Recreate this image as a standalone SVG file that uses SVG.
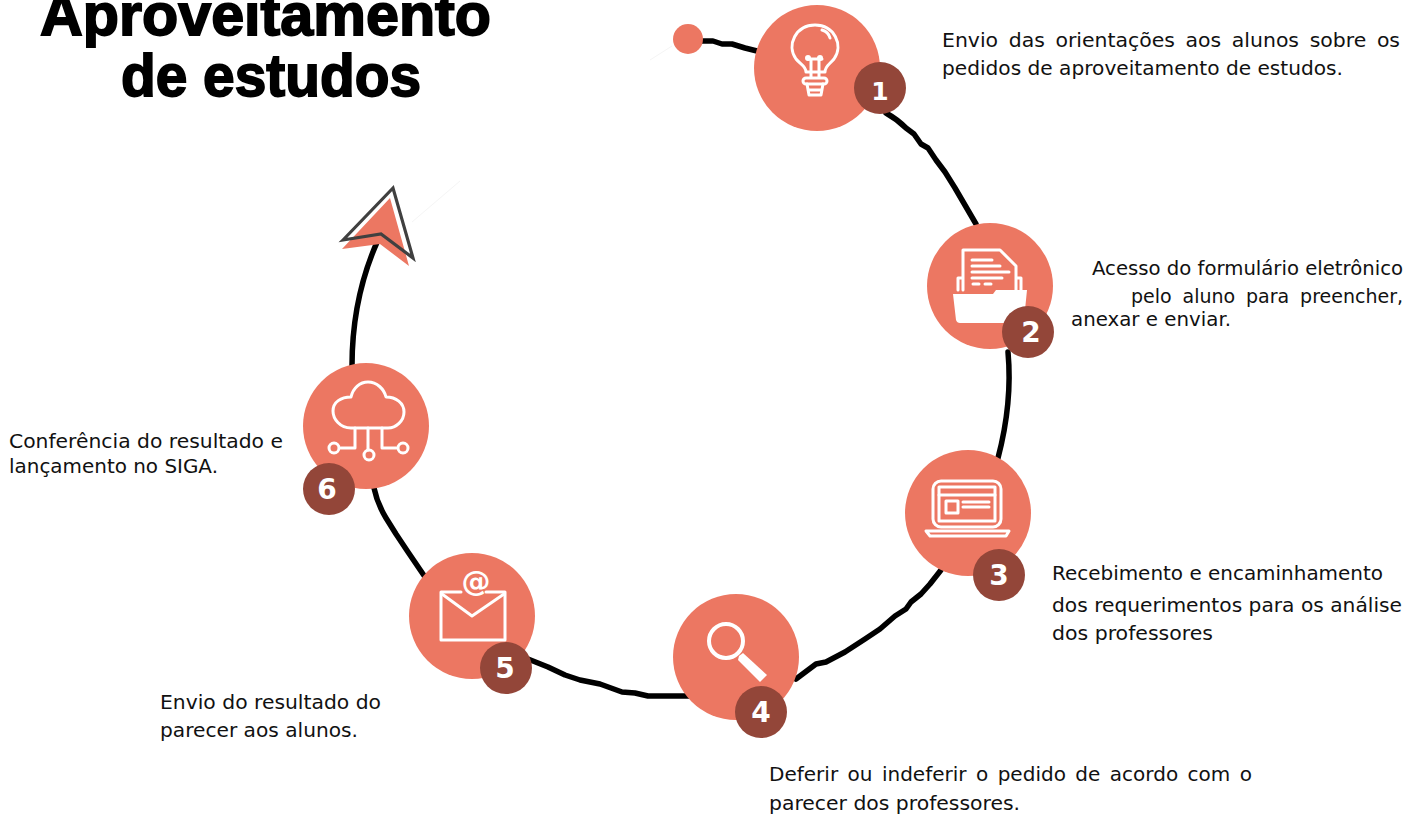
<svg xmlns="http://www.w3.org/2000/svg" width="1422" height="816" viewBox="0 0 1422 816">
<style>
.n{fill:#ec7762}
.b{fill:#934639}
.num{font-family:"DejaVu Sans",sans-serif;font-weight:700;font-size:28px;fill:#fff;text-anchor:middle}
.t{font-family:"DejaVu Sans",sans-serif;font-size:19.6px;fill:#111}
.h{font-family:"Liberation Sans",Arial,sans-serif;font-weight:700;font-size:60px;fill:#000;stroke:#000;stroke-width:1.8}
.i{fill:none;stroke:#fff;stroke-width:3;stroke-linejoin:round;stroke-linecap:round}
.c{fill:none;stroke:#000;stroke-width:5.5;stroke-linecap:round;stroke-linejoin:round}
</style>
<rect width="1422" height="816" fill="#fff"/>
<g id="title">
<text class="h" x="40" y="35" textLength="451" lengthAdjust="spacingAndGlyphs">Aproveitamento</text>
<text class="h" x="121" y="96" textLength="300" lengthAdjust="spacingAndGlyphs">de estudos</text>
</g>
<g id="connectors">
<path d="M650 60L672 46M412 222L460 181" fill="none" stroke="#f5f5f5" stroke-width="1"/>
<path class="c" d="M695 41L713 41L722 44L732 44L745 48L757 51"/>
<path class="c" d="M886 113C895 118 900 122 906 128L914 134L921 144L928 148L936 160L945 172L955 188L976 224"/>
<path class="c" d="M1008 352C1011 385 1008 420 998 458"/>
<path class="c" d="M941 570L930 584L921 594L911 602L906 609L895 616L880 629L865 639L845 652L826 662L816 664L796 679"/>
<path class="c" d="M690 696L648 696L635 693L622 692L600 684L580 680L565 675L548 667L528 659"/>
<path class="c" d="M425 577L408 552L396 534L386 518C380 508 376 498 374 488"/>
<path class="c" d="M352 366C352 325 360 280 378 240"/>
</g>
<g id="start"><circle class="n" cx="688" cy="39" r="15"/></g>
<g id="arrow">
<path d="M390 198L342 249L380 244L409 266Z" fill="#ec7762"/>
<path d="M343 240L393 188L413 258L381 234Z" fill="none" stroke="#404040" stroke-width="3.2" stroke-linejoin="miter"/>
</g>
<g id="node1">
<circle class="n" cx="817" cy="68" r="63"/>
<path class="i" d="M806 72C806 66 800 64 796 59C786 45 796 25 815 25C834 25 844 45 834 59C830 64 825 66 825 72Z"/>
<path class="i" d="M822 30C826 31 829 34 830 38" stroke-width="2"/>
<path class="i" d="M811 77L811 59M819 77L819 59M808 59L822 59"/>
<circle cx="808" cy="58" r="1.5" class="i" stroke-width="2"/><circle cx="820" cy="58" r="1.5" class="i" stroke-width="2"/>
<rect class="i" x="803" y="78" width="24" height="6" rx="3"/>
<path class="i" d="M807 84L809 95L821 95L823 84M808 90L822 90"/>
<circle class="b" cx="880" cy="88" r="26"/>
<text class="num" x="880" y="100" style="font-size:25px">1</text>
</g>
<g id="node2">
<circle class="n" cx="990" cy="286" r="63"/>
<path class="i" d="M963 290L963 250L1000 250L1016 266L1016 290"/>
<path class="i" d="M972 260L992 260M972 266L1000 266M972 272L1009 272M972 278L1002 278M973 284L979 284M985 284L991 284" stroke-width="2"/>
<path class="i" d="M958 290L958 278L962 278M1017 278L1021 278L1021 290" stroke-width="2.5"/>
<path d="M953 294L993 294L996 290L1027 290L1024 320Q1023 323 1020 323L960 323Q957 323 956 320Z" fill="#fff"/>
<circle class="b" cx="1028" cy="332" r="26"/>
<text class="num" x="1031" y="342">2</text>
</g>
<g id="node3">
<circle class="n" cx="968" cy="513" r="63"/>
<rect class="i" x="933" y="481" width="68" height="46" rx="8"/>
<rect class="i" x="939" y="487" width="56" height="34" stroke-width="2"/>
<path class="i" d="M939 495L995 495M963 502L989 502M963 507L989 507" stroke-width="2"/>
<rect class="i" x="946" y="501" width="12" height="12" stroke-width="2.5"/>
<path class="i" d="M926 531L1009 531L1006 536L930 536Z" stroke-width="2"/>
<circle class="b" cx="999" cy="575" r="26"/>
<text class="num" x="999" y="585">3</text>
</g>
<g id="node4">
<circle class="n" cx="736" cy="657" r="63"/>
<circle cx="726" cy="641" r="17" fill="none" stroke="#fff" stroke-width="4"/>
<path d="M739 656L743 653L767 675L760 682L738 660Z" fill="#fff"/>
<circle class="b" cx="761" cy="712" r="26"/>
<text class="num" x="761" y="722">4</text>
</g>
<g id="node5">
<circle class="n" cx="472" cy="616" r="63"/>
<path class="i" d="M461 592L441 592L441 640L505 640L505 592L486 592" stroke-width="3.8"/>
<path class="i" d="M442 594L472 616L504 594" stroke-width="3.8"/>
<text x="476" y="591" font-family="DejaVu Sans,sans-serif" font-size="29" font-weight="700" fill="#fff" text-anchor="middle">@</text>
<circle class="b" cx="506" cy="668" r="26"/>
<text class="num" x="505" y="678">5</text>
</g>
<g id="node6">
<circle class="n" cx="366" cy="426" r="63"/>
<path class="i" d="M351 428C340 428 333 419 333 411C333 402 341 397 351 397C353 388 360 382 368 382C377 382 384 389 386 397C396 397 404 403 404 412C404 421 396 428 388 428Z" stroke-width="1.8"/>
<path class="i" d="M355 428L355 448L341 448M368 428L368 450M382 428L382 448L396 448" stroke-width="1.8"/>
<circle class="i" cx="334" cy="448" r="5" stroke-width="1.8"/>
<circle class="i" cx="369" cy="455" r="5" stroke-width="1.8"/>
<circle class="i" cx="403" cy="448" r="5" stroke-width="1.8"/>
<circle class="b" cx="329" cy="489" r="26"/>
<text class="num" x="327" y="499">6</text>
</g>
<g id="labels">
<text class="t" x="942" y="47" word-spacing="4" textLength="458" lengthAdjust="spacingAndGlyphs">Envio das orientações aos alunos sobre os</text>
<text class="t" x="942" y="75" textLength="401" lengthAdjust="spacingAndGlyphs">pedidos de aproveitamento de estudos.</text>
<text class="t" x="1092" y="275" textLength="311" lengthAdjust="spacingAndGlyphs">Acesso do formulário eletrônico</text>
<text class="t" x="1131" y="303" word-spacing="5" textLength="272" lengthAdjust="spacingAndGlyphs">pelo aluno para preencher,</text>
<text class="t" x="1071" y="326" textLength="160" lengthAdjust="spacingAndGlyphs">anexar e enviar.</text>
<text class="t" x="1052" y="580" textLength="331" lengthAdjust="spacingAndGlyphs">Recebimento e encaminhamento</text>
<text class="t" x="1052" y="612" textLength="350" lengthAdjust="spacingAndGlyphs">dos requerimentos para os análise</text>
<text class="t" x="1052" y="640" textLength="161" lengthAdjust="spacingAndGlyphs">dos professores</text>
<text class="t" x="769" y="781" word-spacing="3" textLength="483" lengthAdjust="spacingAndGlyphs">Deferir ou indeferir o pedido de acordo com o</text>
<text class="t" x="769" y="810" textLength="251" lengthAdjust="spacingAndGlyphs">parecer dos professores.</text>
<text class="t" x="160" y="709" textLength="221" lengthAdjust="spacingAndGlyphs">Envio do resultado do</text>
<text class="t" x="160" y="737" textLength="198" lengthAdjust="spacingAndGlyphs">parecer aos alunos.</text>
<text class="t" x="9" y="448" textLength="274" lengthAdjust="spacingAndGlyphs">Conferência do resultado e</text>
<text class="t" x="9" y="473" textLength="209" lengthAdjust="spacingAndGlyphs">lançamento no SIGA.</text>
</g>
</svg>
